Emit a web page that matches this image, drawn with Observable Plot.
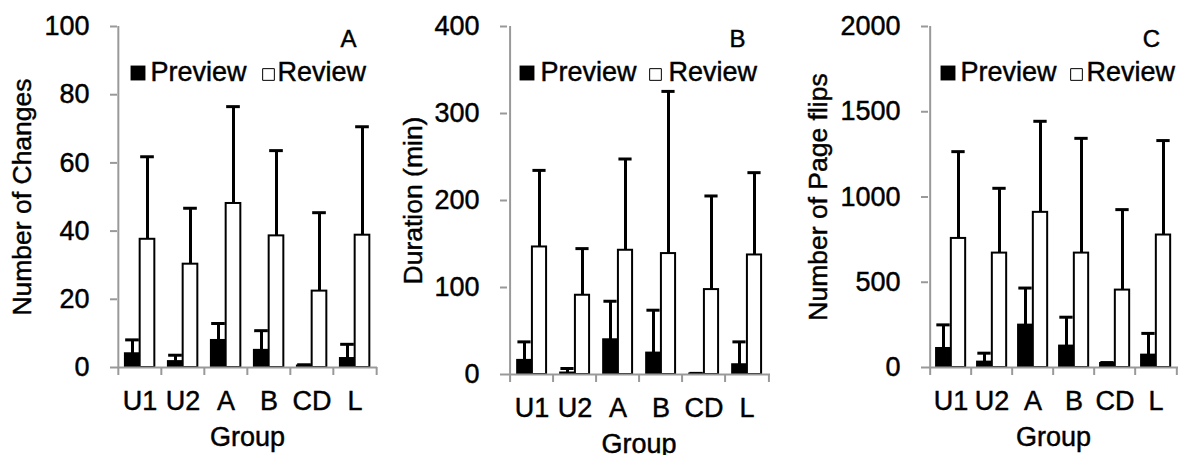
<!DOCTYPE html>
<html>
<head>
<meta charset="utf-8">
<script src="https://cdn.jsdelivr.net/npm/d3@7"></script>
<script src="https://cdn.jsdelivr.net/npm/@observablehq/plot@0.6"></script>
<style>
  html, body { margin: 0; padding: 0; background: #fff; }
  #row { display: flex; width: 1178px; height: 455px; overflow: hidden; }
  #row > div { flex: none; }
  #row svg g[aria-label="y-axis tick label"],
  #row svg g[aria-label="x-axis tick label"] { font-size: 27px !important; }
  #row svg text { stroke: #000; stroke-width: 0.45px; }
</style>
</head>
<body>
<div id="row"><div id="pA"></div><div id="pB"></div><div id="pC"></div></div>
<script>
// ---- data ----
const groups = ["U1", "U2", "A", "B", "CD", "L"];
const series = ["Preview", "Review"];

const changesPreview   = [4.1, 1.8, 8.0, 5.1, 0.5, 2.7];
const changesPreviewSD = [4.0, 1.8, 4.9, 5.7, 0.3, 4.1];
const changesReview    = [37.6, 30.3, 48.1, 38.6, 22.4, 38.8];
const changesReviewSD  = [24.2, 16.4, 28.4, 25.0, 23.0, 31.8];

const durationPreview   = [16.5, 2.0, 40.2, 24.9, 0.8, 11.5];
const durationPreviewSD = [21.0, 4.9, 44.0, 49.0, 0.5, 26.0];
const durationReview    = [146.6, 91.1, 142.8, 139.0, 97.6, 137.4];
const durationReviewSD  = [88.0, 53.6, 104.9, 186.4, 107.6, 94.6];

const flipsPreview   = [113, 33, 250, 127, 25, 74];
const flipsPreviewSD = [137, 51, 216, 168, 4, 126];
const flipsReview    = [757, 671, 910, 671, 454, 777];
const flipsReviewSD  = [509, 380, 534, 673, 472, 554];

const ticksA = [0, 20, 40, 60, 80, 100];
const ticksB = [0, 100, 200, 300, 400];
const ticksC = [0, 500, 1000, 1500, 2000];

const labelA = "Number of Changes";
const labelB = "Duration (min)";
const labelC = "Number of Page flips";
const xLabel = "Group";

// ---- drawing ----
const FONT = "'Liberation Sans', Arial, sans-serif";
const AXIS = "#999";

function panel(o) {
  const H = 455, top = 26;
  const plotW = o.width - o.ml - o.mr;
  const plotH = H - top - o.mb;
  const bw = plotW / groups.length;
  const yMax = o.ticks[o.ticks.length - 1];
  const k = yMax * 8 / plotH;
  const barW = 15, capW = 14;
  const rows = (m, s) => groups.map((g, i) => ({group: g, mean: m[i], top: m[i] + s[i]}));
  const pre = rows(o.prev, o.prevSD), rev = rows(o.rev, o.revSD);
  return Plot.plot({
    width: o.width, height: H,
    marginLeft: o.ml, marginRight: o.mr, marginTop: top, marginBottom: o.mb,
    style: {fontFamily: FONT, fontSize: "27px", color: "black", background: "white", overflow: "visible"},
    x: {domain: groups, padding: 0},
    y: {domain: [0, yMax]},
    marks: [
      Plot.axisY({ticks: o.ticks, tickFormat: d3.format("d"), tickSize: 7, tickPadding: 21, stroke: AXIS, strokeWidth: 2, fill: "black", fontSize: 27, label: null}),
      Plot.axisX({tickSize: 0, tickPadding: 23, fill: "black", fontSize: 27, label: null}),
      // bars
      Plot.barY(pre, {x: "group", y: "mean", fill: "black", stroke: "black", strokeWidth: 1.5,
        insetLeft: bw / 2 - barW, insetRight: bw / 2}),
      Plot.barY(rev, {x: "group", y: "mean", fill: "white", stroke: "black", strokeWidth: 2,
        insetLeft: bw / 2, insetRight: bw / 2 - barW}),
      // error bars
      Plot.ruleX(pre, {x: "group", dx: -barW / 2, y1: "mean", y2: "top", stroke: "black", strokeWidth: 3}),
      Plot.ruleX(rev, {x: "group", dx: barW / 2, y1: "mean", y2: "top", stroke: "black", strokeWidth: 3}),
      Plot.tickY(pre, {x: "group", y: "top", stroke: "black", strokeWidth: 3,
        insetLeft: bw / 2 - barW / 2 - capW / 2, insetRight: bw / 2 + barW / 2 - capW / 2}),
      Plot.tickY(rev, {x: "group", y: "top", stroke: "black", strokeWidth: 3,
        insetLeft: bw / 2 + barW / 2 - capW / 2, insetRight: bw / 2 - barW / 2 - capW / 2}),
      // axis lines and category boundary ticks
      Plot.ruleY([0], {stroke: AXIS, strokeWidth: 2}),
      Plot.ruleX([groups[0]], {x: d => d, dx: -bw / 2, y1: 0, y2: yMax, stroke: AXIS, strokeWidth: 2}),
      Plot.ruleX(groups, {x: d => d, dx: -bw / 2, y1: 0, y2: -k, stroke: AXIS, strokeWidth: 2}),
      Plot.ruleX([groups[groups.length - 1]], {x: d => d, dx: bw / 2, y1: 0, y2: -k, stroke: AXIS, strokeWidth: 2}),
      // axis titles
      Plot.text([o.label], {text: d => d, frameAnchor: "left", rotate: -90, dx: o.titleDx,
        lineAnchor: "middle", textAnchor: "middle", fontSize: 26.5, fill: "black"}),
      Plot.text([xLabel], {text: d => d, frameAnchor: "bottom", dy: 78, lineAnchor: "bottom", textAnchor: "middle", fontSize: 27, fill: "black"}),
      // panel letter
      Plot.text([o.letter], {text: d => d, frameAnchor: "top-left", dx: o.letterDx, dy: 20.5,
        lineAnchor: "bottom", textAnchor: "middle", fontSize: 24, fill: "black"}),
      // legend
      Plot.dot([series[0]], {frameAnchor: "top-left", dx: o.lg[0], dy: 46.5, symbol: "square", r: 8.4, fill: "black"}),
      Plot.text([series[0]], {text: d => d, frameAnchor: "top-left", dx: o.lg[1], dy: 54,
        lineAnchor: "bottom", textAnchor: "start", fontSize: 27, fill: "black"}),
      Plot.dot([series[1]], {frameAnchor: "top-left", dx: o.lg[2], dy: 48, symbol: "square", r: 6.6, fill: "white", stroke: "black", strokeWidth: 1}),
      Plot.text([series[1]], {text: d => d, frameAnchor: "top-left", dx: o.lg[3], dy: 54,
        lineAnchor: "bottom", textAnchor: "start", fontSize: 27, fill: "black"})
    ]
  });
}

document.getElementById("pA").append(panel({
  width: 393, ml: 117, mr: 16, mb: 88, ticks: ticksA, label: labelA, titleDx: -95,
  letter: "A", letterDx: 231, lg: [20.5, 33, 151, 160],
  prev: changesPreview, prevSD: changesPreviewSD, rev: changesReview, revSD: changesReviewSD
}));
document.getElementById("pB").append(panel({
  width: 393, ml: 114, mr: 16, mb: 81, ticks: ticksB, label: labelB, titleDx: -94,
  letter: "B", letterDx: 230, lg: [19.5, 33, 148, 161],
  prev: durationPreview, prevSD: durationPreviewSD, rev: durationReview, revSD: durationReviewSD
}));
document.getElementById("pC").append(panel({
  width: 392, ml: 142, mr: 0, mb: 88, ticks: ticksC, label: labelC, titleDx: -110,
  letter: "C", letterDx: 223, lg: [19.5, 32, 148, 158],
  prev: flipsPreview, prevSD: flipsPreviewSD, rev: flipsReview, revSD: flipsReviewSD
}));
</script>
</body>
</html>
